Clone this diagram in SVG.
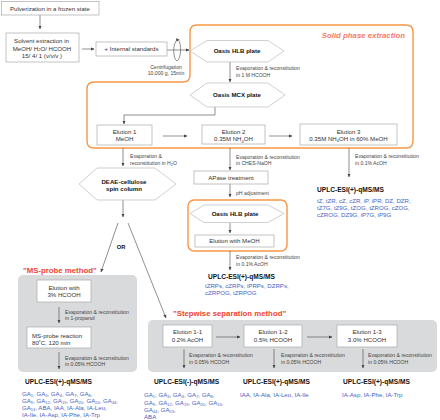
<svg xmlns="http://www.w3.org/2000/svg" width="440" height="420" viewBox="0 0 440 420">
<style>
text{font-family:"Liberation Sans",Arial,sans-serif;font-size:6.1px;fill:#333}
.c{text-anchor:middle}
.s{font-size:5.1px;fill:#444}
.b{font-weight:bold;fill:#111}
.h{font-weight:bold;font-size:6.6px;fill:#111}
.bl{fill:#4463C4;font-size:6.1px}
.sb{font-size:4px}
.box{fill:#fff;stroke:#aaa;stroke-width:0.7}
.hex{fill:#fff;stroke:#bbb;stroke-width:0.7}
.ar{stroke:#444;stroke-width:0.6;fill:none;marker-end:url(#ah)}
.ln{stroke:#444;stroke-width:0.6;fill:none}
.panel{fill:#d9dadb}
.org{fill:none;stroke:#F79646;stroke-width:1.4}
.sol{font-weight:bold;font-style:italic;font-size:7.8px;fill:#F47C6C}
.red{font-weight:bold;font-size:7.8px;fill:#F0452F}
</style>
<defs>
<marker id="ah" viewBox="0 0 6 6" refX="5.5" refY="3" markerWidth="3.6" markerHeight="3.6" orient="auto" markerUnits="userSpaceOnUse">
<path d="M0,0.4 L6,3 L0,5.6 Z" fill="#444"/>
</marker>
</defs>

<g id="panels">
<path class="org" d="M197,25 H406 Q413,25 413,32 V141 Q413,148 406,148 H94 Q87,148 87,141 V89 Q87,82 94,82 H183 Q190,82 190,75 V32 Q190,25 197,25 Z"/>
<text class="sol" x="405" y="38" text-anchor="end">Solid phase extraction</text>
<rect class="org" x="188" y="200" width="99" height="51" rx="6"/>
<rect class="panel" x="18" y="275" width="119" height="97" rx="5"/>
<text class="red" x="23" y="272.6">"MS-probe method"</text>
<rect class="panel" x="148" y="320" width="289" height="52" rx="5"/>
<text class="red" x="173" y="315.8">"Stepwise separation method"</text>
</g>

<g id="connectors">
<line class="ar" x1="40" y1="15" x2="40" y2="29"/>
<line class="ar" x1="82" y1="49" x2="94" y2="49"/>
<line class="ar" x1="167" y1="50" x2="189" y2="50"/>
<path class="ln" d="M178,39.5 C172.5,41 172.5,59 177,61 C181.5,59 181.5,43 178.5,40"/>
<path d="M176,38.2 L179.4,39.6 L176.6,41.6 Z" fill="#444"/>
<line class="ar" x1="230" y1="62" x2="230" y2="82"/>
<path class="ar" d="M215,107 V115 H124 V124"/>
<line class="ar" x1="163" y1="136" x2="187" y2="136"/>
<line class="ar" x1="269" y1="136" x2="292" y2="136"/>
<line class="ar" x1="349" y1="148" x2="349" y2="177"/>
<line class="ar" x1="123" y1="148" x2="123" y2="166"/>
<line class="ar" x1="230" y1="148" x2="230" y2="170"/>
<line class="ar" x1="230" y1="184" x2="230" y2="197"/>
<line class="ar" x1="230" y1="223" x2="230" y2="233"/>
<line class="ar" x1="230" y1="251" x2="230" y2="270"/>
<line class="ar" x1="123" y1="200" x2="123" y2="217"/>
<line class="ar" x1="118" y1="223" x2="101" y2="272"/>
<line class="ar" x1="128" y1="223" x2="166" y2="318"/>
<line class="ar" x1="59" y1="307" x2="59" y2="323"/>
<line class="ar" x1="59" y1="352" x2="59" y2="369"/>
<line class="ar" x1="216" y1="337" x2="240" y2="337"/>
<line class="ar" x1="307" y1="337" x2="332" y2="337"/>
<line class="ar" x1="184" y1="349" x2="184" y2="368"/>
<line class="ar" x1="274" y1="349" x2="274" y2="368"/>
<line class="ar" x1="363" y1="349" x2="363" y2="368"/>
</g>

<g id="labels">
<text class="s c" x="166" y="68.5">Centrifugation</text>
<text class="s c" x="166" y="75">10,000 g, 15min</text>
<text class="s" x="236" y="70.1">Evaporation &amp; reconstitution</text>
<text class="s" x="236" y="76.8">in 1 M HCOOH</text>
<text class="s" x="355" y="157.8">Evaporation &amp; reconstitution</text>
<text class="s" x="355" y="164.5">in 0.1% AcOH</text>
<text class="s" x="130" y="157.8">Evaporation &amp;</text>
<text class="s" x="130" y="164.5">reconstitution in H<tspan class="sb" dy="1.1">2</tspan><tspan dy="-1.1">O</tspan></text>
<text class="s" x="236" y="158.8">Evaporation &amp; reconstitution</text>
<text class="s" x="236" y="165.2">in CHES-NaOH</text>
<text class="s" x="236" y="195">pH adjustment</text>
<text class="s" x="236" y="259">Evaporation &amp; reconstitution</text>
<text class="s" x="236" y="265.5">in 0.1% AcOH</text>
<text class="b c" x="121" y="249" style="font-size:5.8px">OR</text>
<text class="s" x="65" y="314">Evaporation &amp; reconstitution</text>
<text class="s" x="65" y="320">in 1-propanol</text>
<text class="s" x="65" y="359.6">Evaporation &amp; reconstitution</text>
<text class="s" x="65" y="366">in 0.05% HCOOH</text>
<text class="s" x="189" y="356.8">Evaporation &amp; reconstitution</text>
<text class="s" x="189" y="364">in 0.05% HCOOH</text>
<text class="s" x="281" y="356.8">Evaporation &amp; reconstitution</text>
<text class="s" x="281" y="364">in 0.05% HCOOH</text>
<text class="s" x="368" y="356.8">Evaporation &amp; reconstitution</text>
<text class="s" x="368" y="364">in 0.05% HCOOH</text>
</g>

<g id="pulverization">
<rect class="box" x="1.5" y="1.5" width="97.5" height="13.5"/>
<text class="c" x="50" y="10.6">Pulverization in a frozen state</text>
</g>
<g id="solvent">
<rect class="box" x="6" y="33" width="73" height="29"/>
<text class="c" x="41.5" y="43.2">Solvent extraction in</text>
<text class="c" x="42" y="50.5">MeOH/ H<tspan class="sb" dy="0.9">2</tspan><tspan dy="-0.9">O/ HCOOH</tspan></text>
<text class="c" x="42" y="58">15/ 4/ 1 (v/v/v )</text>
</g>
<g id="internal">
<rect class="box" x="96" y="42" width="71" height="14"/>
<text class="c" x="131.5" y="51.2">+ Internal standards</text>
</g>
<g id="hlb1">
<polygon class="hex" points="190,51 207,40.5 268,40.5 284,51 268,62 207,62"/>
<text class="b c" x="237" y="53.2">Oasis HLB plate</text>
</g>
<g id="mcx">
<polygon class="hex" points="190,95 207,83 268,83 285,95 268,107 207,107"/>
<text class="b c" x="237" y="97.2">Oasis MCX plate</text>
</g>
<g id="elution1">
<rect class="box" x="97" y="125" width="55" height="20"/>
<text class="c" x="124.5" y="133.8">Elution 1</text>
<text class="c" x="124.5" y="141.4">MeOH</text>
</g>
<g id="elution2">
<rect class="box" x="202" y="125" width="63" height="19"/>
<text class="c" x="233.5" y="133.5">Elution 2</text>
<text class="c" x="233.5" y="141.4">0.35M NH<tspan class="sb" dy="1.2">4</tspan><tspan dy="-1.2">OH</tspan></text>
</g>
<g id="elution3">
<rect class="box" x="300" y="124" width="97" height="21"/>
<text class="c" x="348.5" y="133.5">Elution 3</text>
<text class="c" x="348.5" y="141.2">0.35M NH<tspan class="sb" dy="1.2">4</tspan><tspan dy="-1.2">OH in 60% MeOH</tspan></text>
</g>
<g id="uplc-cytokinin">
<text class="h" x="317" y="191.5">UPLC-ESI(+)-qMS/MS</text>
<text class="bl" x="317" y="203.2">tZ, tZR, cZ, cZR, iP, iPR, DZ, DZR,</text>
<text class="bl" x="317" y="210.2">tZ7G, tZ9G, tZOG, tZROG, cZOG,</text>
<text class="bl" x="317" y="217.2">cZROG, DZ9G, iP7G, iP9G</text>
</g>
<g id="deae">
<polygon class="hex" points="79,184 97,168 155,168 176,184 155,200 97,200"/>
<text class="b c" x="124" y="184">DEAE-cellulose</text>
<text class="b c" x="124" y="191.4">spin column</text>
</g>
<g id="apase">
<rect class="box" x="194" y="171" width="74" height="13"/>
<text class="c" x="231" y="179.8">APase treatment</text>
</g>
<g id="hlb2">
<polygon class="hex" points="190,213.5 204,205 268,205 284,213.5 268,222.5 204,222.5"/>
<text class="b c" x="235" y="215.7">Oasis HLB plate</text>
</g>
<g id="elution-meoh">
<rect class="box" x="195" y="235" width="79" height="12"/>
<text class="c" x="234.5" y="243.2">Elution with MeOH</text>
</g>
<g id="uplc-ribotide">
<text class="h" x="208" y="278.6">UPLC-ESI(+)-qMS/MS</text>
<text class="bl" x="205" y="288.2">tZRPs, cZRPs, iPRPs, DZRPs,</text>
<text class="bl" x="205" y="295.2">cZRPOG, tZRPOG</text>
</g>
<g id="elution-hcooh">
<rect class="box" x="37" y="280" width="54" height="22"/>
<text class="c" x="64" y="290.2">Elution with</text>
<text class="c" x="64" y="297.2">3% HCOOH</text>
</g>
<g id="msprobe-reaction">
<rect class="box" x="27" y="327" width="64" height="21"/>
<text x="32" y="338">MS-probe reaction</text>
<text x="32" y="345">80˚C, 120 min</text>
</g>
<g id="uplc-msprobe">
<text class="h" x="25" y="383.5">UPLC-ESI(+)-qMS/MS</text>
<text class="bl" x="22" y="396.2">GA<tspan class="sb" dy="1.2">1</tspan><tspan dy="-1.2">, GA</tspan><tspan class="sb" dy="1.2">3</tspan><tspan dy="-1.2">, GA</tspan><tspan class="sb" dy="1.2">4</tspan><tspan dy="-1.2">, GA</tspan><tspan class="sb" dy="1.2">7</tspan><tspan dy="-1.2">, GA</tspan><tspan class="sb" dy="1.2">8</tspan><tspan dy="-1.2">,</tspan></text>
<text class="bl" x="22" y="403">GA<tspan class="sb" dy="1.2">9</tspan><tspan dy="-1.2">, GA</tspan><tspan class="sb" dy="1.2">12</tspan><tspan dy="-1.2">, GA</tspan><tspan class="sb" dy="1.2">19</tspan><tspan dy="-1.2">, GA</tspan><tspan class="sb" dy="1.2">20</tspan><tspan dy="-1.2">, GA</tspan><tspan class="sb" dy="1.2">24</tspan><tspan dy="-1.2">, GA</tspan><tspan class="sb" dy="1.2">44</tspan><tspan dy="-1.2">,</tspan></text>
<text class="bl" x="22" y="409.8">GA<tspan class="sb" dy="1.2">53</tspan><tspan dy="-1.2">, ABA, IAA, IA-Ala, IA-Leu,</tspan></text>
<text class="bl" x="22" y="416.5">IA-Ile, IA-Asp, IA-Phe, IA-Trp</text>
</g>
<g id="elution1-1">
<rect class="box" x="163" y="325" width="49" height="22"/>
<text class="c" x="187.5" y="334.2">Elution 1-1</text>
<text class="c" x="187.5" y="342">0.2% AcOH</text>
</g>
<g id="elution1-2">
<rect class="box" x="244" y="325" width="58" height="22"/>
<text class="c" x="273" y="334.2">Elution 1-2</text>
<text class="c" x="273" y="342">0.5% HCOOH</text>
</g>
<g id="elution1-3">
<rect class="box" x="337" y="325" width="60" height="22"/>
<text class="c" x="367" y="334.2">Elution 1-3</text>
<text class="c" x="367" y="342">3.0% HCOOH</text>
</g>
<g id="uplc-neg">
<text class="h" x="154" y="383.5">UPLC-ESI(-)-qMS/MS</text>
<text class="bl" x="144" y="397.2">GA<tspan class="sb" dy="1.2">1</tspan><tspan dy="-1.2">, GA</tspan><tspan class="sb" dy="1.2">3</tspan><tspan dy="-1.2">, GA</tspan><tspan class="sb" dy="1.2">4</tspan><tspan dy="-1.2">, GA</tspan><tspan class="sb" dy="1.2">7</tspan><tspan dy="-1.2">, GA</tspan><tspan class="sb" dy="1.2">8</tspan><tspan dy="-1.2">,</tspan></text>
<text class="bl" x="144" y="404.6">GA<tspan class="sb" dy="1.2">9</tspan><tspan dy="-1.2">, GA</tspan><tspan class="sb" dy="1.2">12</tspan><tspan dy="-1.2">, GA</tspan><tspan class="sb" dy="1.2">19</tspan><tspan dy="-1.2">, GA</tspan><tspan class="sb" dy="1.2">20</tspan><tspan dy="-1.2">, GA</tspan><tspan class="sb" dy="1.2">24</tspan><tspan dy="-1.2">,</tspan></text>
<text class="bl" x="144" y="411.8">GA<tspan class="sb" dy="1.2">44</tspan><tspan dy="-1.2">, GA</tspan><tspan class="sb" dy="1.2">53</tspan><tspan dy="-1.2">,</tspan></text>
<text class="bl" x="144" y="419">ABA</text>
</g>
<g id="uplc-pos2">
<text class="h" x="243" y="383.5">UPLC-ESI(+)-qMS/MS</text>
<text class="bl" x="240" y="397.2">IAA, IA-Ala, IA-Leu, IA-Ile</text>
</g>
<g id="uplc-pos3">
<text class="h" x="343" y="383.5">UPLC-ESI(+)-qMS/MS</text>
<text class="bl" x="342" y="397.2">IA-Asp, IA-Phe, IA-Trp</text>
</g>
</svg>
